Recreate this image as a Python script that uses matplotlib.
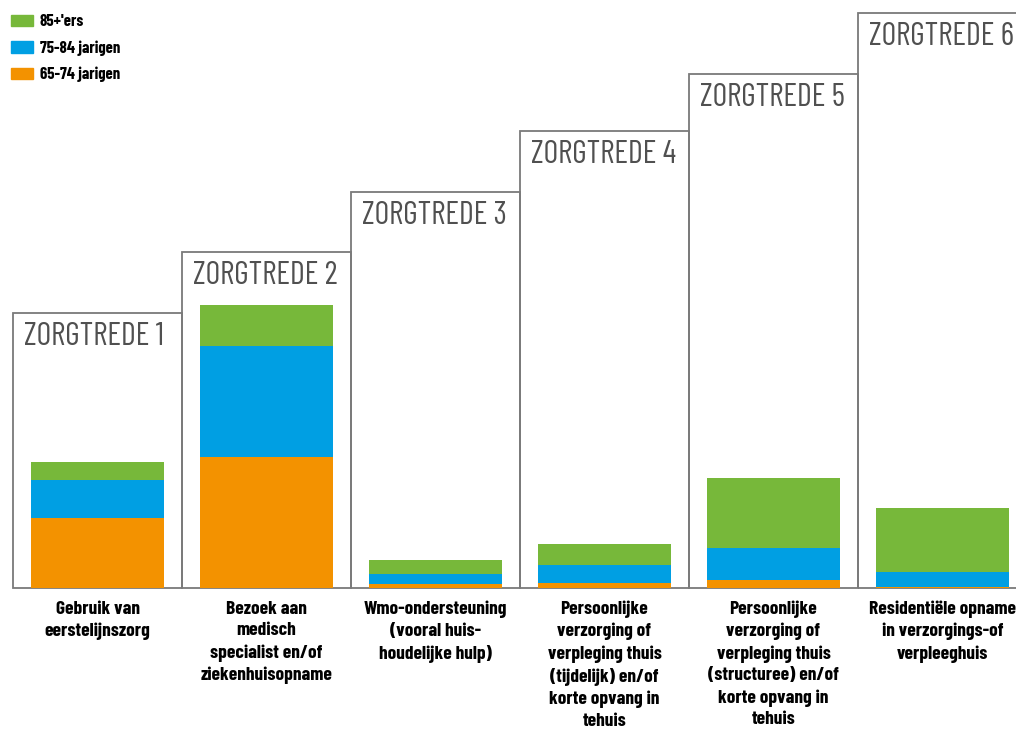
import matplotlib
matplotlib.use("Agg")
import matplotlib.pyplot as plt
from matplotlib.patches import Rectangle, Patch
import numpy as np

categories = [
    "Gebruik van\neerstelijnszorg",
    "Bezoek aan\nmedisch\nspecialist en/of\nziekenhuisopname",
    "Wmo-ondersteuning\n(vooral huis-\nhoudelijke hulp)",
    "Persoonlijke\nverzorging of\nverpleging thuis\n(tijdelijk) en/of\nkorte opvang in\ntehuis",
    "Persoonlijke\nverzorging of\nverpleging thuis\n(structuree) en/of\nkorte opvang in\ntehuis",
    "Residentiële opname\nin verzorgings-of\nverpleeghuis",
]
steps = ["ZORGTREDE 1", "ZORGTREDE 2", "ZORGTREDE 3", "ZORGTREDE 4", "ZORGTREDE 5", "ZORGTREDE 6"]
step_heights = [27.5, 33.6, 39.6, 45.7, 51.4, 57.5]

age_65_74 = [7.0, 13.1, 0.4, 0.5, 0.8, 0.15]
age_75_84 = [3.8, 11.1, 1.0, 1.8, 3.2, 1.5]
age_85plus = [1.8, 4.1, 1.4, 2.1, 7.0, 6.4]

series_labels = ["65-74 jarigen", "75-84 jarigen", "85+'ers"]
colors = ["#F39200", "#009FE3", "#77B83A"]

FONT = ["Barlow Condensed", "Roboto Condensed", "Open Sans Condensed",
        "IBM Plex Sans Condensed", "DejaVu Sans"]

fig = plt.figure(figsize=(10.16, 7.29), dpi=100)
ax = fig.add_axes([0, 0, 1, 1])
ax.set_xlim(-0.577, 5.435)
ax.set_ylim(-14.1, 58.8)
ax.axis("off")

x = np.arange(len(categories))
bw = 0.787
bottom = np.zeros(len(x))
handles = []
for vals, lab, col in zip([age_65_74, age_75_84, age_85plus], series_labels, colors):
    ax.bar(x, vals, bw, bottom=bottom, color=col, label=lab, zorder=3)
    bottom += np.array(vals)
    handles.append(Patch(color=col, label=lab))

edge = "#7a7a7a"
for i, (h, s) in enumerate(zip(step_heights, steps)):
    ax.add_patch(Rectangle((i - 0.5, 0), 1.0, h, fill=False, edgecolor=edge,
                           lw=1.3, clip_on=False, zorder=2))
    ax.text(i - 0.5 + 0.065, h - 3.2, s, ha="left", va="baseline", fontsize=23,
            color="#505050", family=FONT)

for i, c in enumerate(categories):
    ax.text(i, -1.25, c, ha="center", va="top", fontsize=14, fontweight="bold",
            color="black", family=FONT, linespacing=1.36)

ax.legend(handles=handles[::-1], loc="upper left", bbox_to_anchor=(0.008, 0.985),
          frameon=False, prop={"family": FONT, "weight": "bold", "size": 12},
          handlelength=1.3, handleheight=0.72, labelspacing=0.66, handletextpad=0.4,
          borderaxespad=0.0, borderpad=0.2)

fig.savefig("out.png", dpi=100)
